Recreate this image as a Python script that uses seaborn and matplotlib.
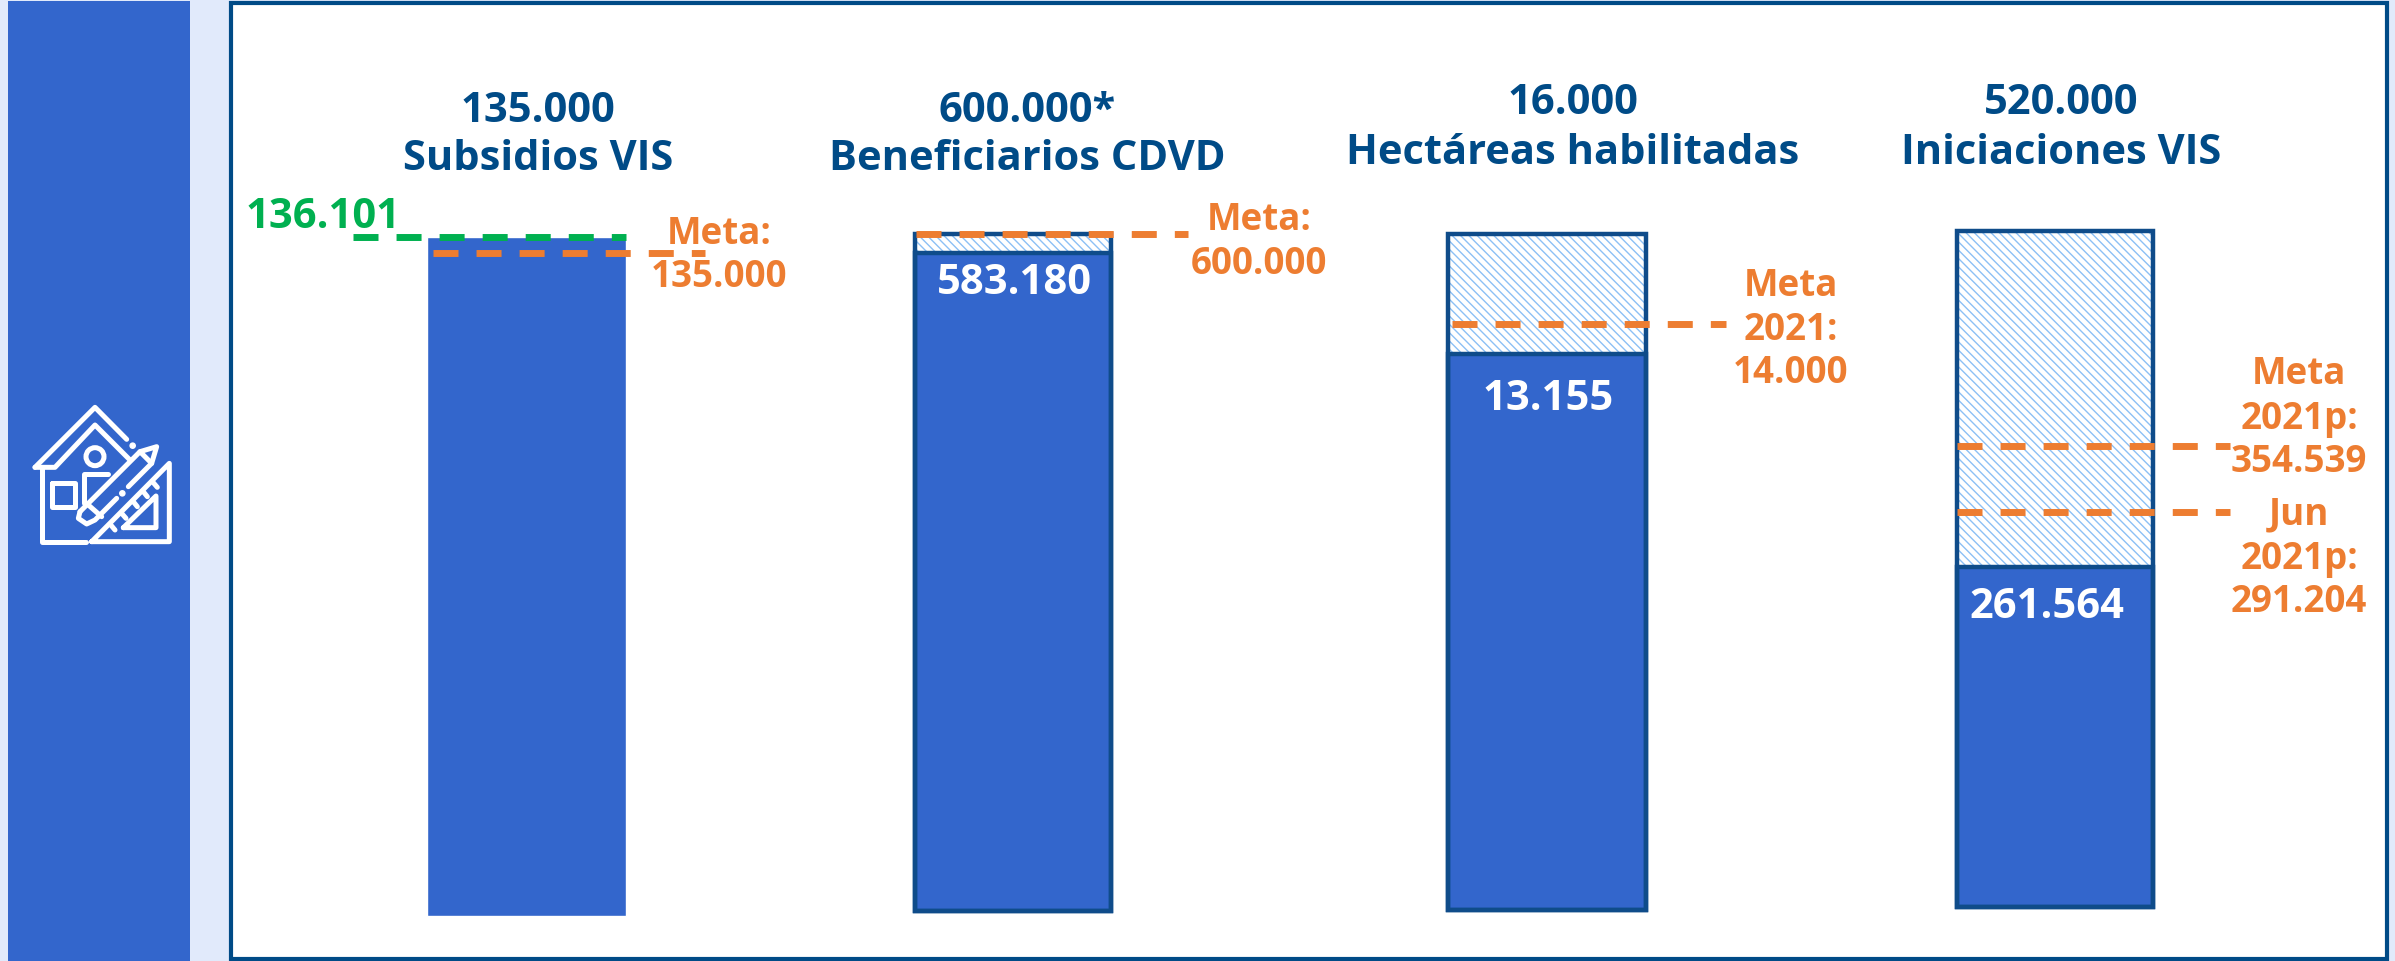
import matplotlib
matplotlib.use('Agg')
import matplotlib.pyplot as plt
from matplotlib.patches import Rectangle, Circle
import pandas as pd
import seaborn as sns

W, H = 2395, 961

# Data
categories = ['Subsidios VIS', 'Beneficiarios CDVD', 'Hectáreas habilitadas', 'Iniciaciones VIS']
title_values = ['135.000', '600.000*', '16.000', '520.000']
totals = [136101, 600000, 16000, 520000]
achieved = [136101, 583180, 13155, 261564]
achieved_labels = ['136.101', '583.180', '13.155', '261.564']
# height of the dashed lines as they sit in the picture (not always what the label says)
meta_lines = [132900, 600000, 13880, 354500]
jun_line = 303500
meta_labels = ['Meta:\n135.000', 'Meta:\n600.000', 'Meta\n2021:\n14.000', 'Meta\n2021p:\n354.539']
jun_label = 'Jun\n2021p:\n291.204'

# Colors
BG = '#E1EAFB'
BLUE = '#3366CC'
NAVY = '#004B87'
BORDER = '#0F4C8A'
ORANGE = '#ED7D31'
GREEN = '#00B050'
HATCH = '#8CC0F5'

sns.set_theme(style='white')
plt.rcParams['font.family'] = ['Open Sans', 'DejaVu Sans']
plt.rcParams['hatch.linewidth'] = 1.0

fig = plt.figure(figsize=(W / 100, H / 100), dpi=100, facecolor=BG)

# background layer in pixel coordinates
bg = fig.add_axes([0, 0, 1, 1], zorder=0)
bg.set_xlim(0, W)
bg.set_ylim(H, 0)
bg.axis('off')
bg.add_patch(Rectangle((8, 1), 182, H, facecolor=BLUE, edgecolor='none'))
bg.add_patch(Rectangle((231, 3), 2156, 956, facecolor='white', edgecolor=NAVY, linewidth=3))


def icon_line(pts):
    xs = [p[0] / 3 for p in pts]
    ys = [380 + p[1] / 3 for p in pts]
    bg.plot(xs, ys, color='white', lw=3.6, solid_capstyle='round', solid_joinstyle='round')


# house + pencil + ruler icon
icon_line([(105, 262), (285, 82), (380, 178)])
icon_line([(105, 262), (165, 262), (285, 135), (390, 240)])
icon_line([(125, 265), (125, 485), (258, 485)])
icon_line([(155, 308), (225, 308), (225, 380), (155, 380), (155, 308)])
icon_line([(325, 283), (252, 283), (252, 370)])
icon_line([(240, 395), (420, 215), (470, 200), (455, 250), (385, 320)])
icon_line([(240, 395), (235, 415), (260, 432), (285, 420), (350, 355)])
icon_line([(265, 375), (305, 410)])
icon_line([(420, 215), (455, 250)])
icon_line([(275, 485), (508, 250), (508, 485), (275, 485)])
icon_line([(370, 443), (468, 348), (468, 443), (370, 443)])
for t in [(330, 432, 345, 450), (365, 400, 378, 415), (400, 365, 412, 380), (430, 335, 442, 350), (460, 308, 472, 322)]:
    icon_line([(t[0], t[1]), (t[2], t[3])])
bg.add_patch(Circle((285 / 3, 380 + 230 / 3), 9, facecolor='none', edgecolor='white', linewidth=3.6))
bg.add_patch(Circle((398 / 3, 380 + 197 / 3), 2.6, color='white'))
bg.add_patch(Circle((367 / 3, 380 + 340 / 3), 2.6, color='white'))

# pixel boxes of the bars: left, right, top, bottom
boxes = [(427, 626, 237, 916), (915, 1111, 234, 911), (1448, 1646, 234, 910), (1957, 2153, 231, 907)]
# pixel span of the meta dashes
dash_spans = [(433, 705), (916, 1188), (1452, 1726), (1957, 2230)]

dash = (0, (3.6, 2.6))
lw_dash = 5
lw_edge = 3.2


def to_x(px, box):
    return -0.5 + (px - box[0]) / (box[1] - box[0])


axes = []
for i, name in enumerate(categories):
    box = boxes[i]
    ax = fig.add_axes([box[0] / W, 1 - box[3] / H, (box[1] - box[0]) / W, (box[3] - box[2]) / H], zorder=2)
    ax.patch.set_alpha(0)
    df = pd.DataFrame({'cat': [name], 'total': [totals[i]], 'done': [achieved[i]]})

    if i > 0:
        sns.barplot(data=df, x='cat', y='total', width=1, color='white', saturation=1, ax=ax)
        ax.patches[-1].set_hatch('\\\\\\\\')
        ax.patches[-1].set_edgecolor(HATCH)
        ax.patches[-1].set_linewidth(0)
    sns.barplot(data=df, x='cat', y='done', width=1, color=BLUE, saturation=1, ax=ax)
    if i > 0:
        ax.patches[-1].set_edgecolor(BORDER)
        ax.patches[-1].set_linewidth(lw_edge)
        sns.barplot(data=df, x='cat', y='total', width=1, color=BORDER, fill=False,
                    linewidth=lw_edge, ax=ax)
    # keep the whole outline, half of it sits outside the axes
    for p in ax.patches:
        p.set_clip_on(False)

    ax.set_xlim(-0.5, 0.5)
    ax.set_ylim(0, totals[i])
    ax.axis('off')

    x0, x1 = dash_spans[i]
    ax.plot([to_x(x0, box), to_x(x1, box)], [meta_lines[i]] * 2, color=ORANGE, lw=lw_dash,
            linestyle=dash, dash_capstyle='butt', clip_on=False)
    if i == 0:
        ax.plot([to_x(353, box), to_x(626, box)], [totals[0]] * 2, color=GREEN, lw=lw_dash,
                linestyle=dash, dash_capstyle='butt', clip_on=False)
    if i == 3:
        ax.plot([to_x(x0, box), to_x(x1, box)], [jun_line] * 2, color=ORANGE, lw=lw_dash,
                linestyle=dash, dash_capstyle='butt', clip_on=False)
    axes.append(ax)

# text layer
top = fig.add_axes([0, 0, 1, 1], zorder=3)
top.set_xlim(0, W)
top.set_ylim(H, 0)
top.axis('off')
top.patch.set_alpha(0)

title_xy = [(538, 111, 160), (1027, 112, 159), (1573, 104, 153), (2061, 103, 153)]
for i in range(4):
    x, y1, y2 = title_xy[i]
    top.text(x, y1, title_values[i], color=NAVY, fontsize=30, fontweight='bold', ha='center', va='center')
    top.text(x, y2, categories[i], color=NAVY, fontsize=30, fontweight='bold', ha='center', va='center')

top.text(323, 217, achieved_labels[0], color=GREEN, fontsize=30, fontweight='bold', ha='center', va='center')
bar_label_xy = [None, (1014, 284), (1548, 399), (2047, 607)]
for i in range(1, 4):
    top.text(bar_label_xy[i][0], bar_label_xy[i][1], achieved_labels[i], color='white', fontsize=30,
             fontweight='bold', ha='center', va='center')

# orange labels, one line at a time to hold the spacing
meta_xy = [(719, [234, 277]), (1259, [220, 264]), (1791, [286, 330, 373]), (2299, [374, 419, 462])]
for i in range(4):
    x, ys = meta_xy[i]
    for line, y in zip(meta_labels[i].split('\n'), ys):
        top.text(x, y, line, color=ORANGE, fontsize=26.5, fontweight='bold', ha='center', va='center')
for line, y in zip(jun_label.split('\n'), [514, 559, 602]):
    top.text(2299, y, line, color=ORANGE, fontsize=26.5, fontweight='bold', ha='center', va='center')

fig.savefig('out.png', dpi=100, facecolor=BG)
